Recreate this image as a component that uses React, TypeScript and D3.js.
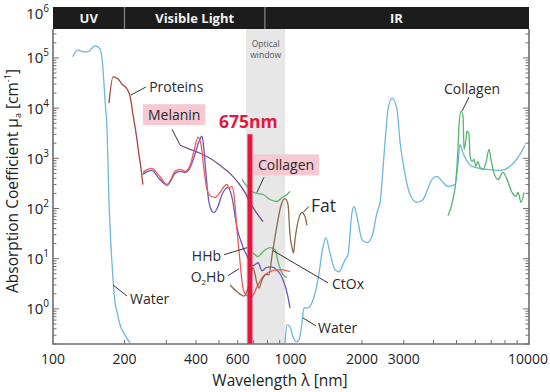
import * as d3 from "d3";
import React, { useEffect, useRef } from "react";

type Pt = [number, number]; // [wavelength nm, absorption cm^-1]

// ---- spectra ----
const waterUV: Pt[] = [
  [121, 1.05e5], [127, 1.45e5], [134, 1.32e5], [140, 1.32e5], [150, 1.74e5],
  [158, 1.51e5], [162, 6.9e4], [165.5, 1.5e4], [169, 3300], [172, 151],
  [174, 38], [177, 8.7], [179, 3.8], [182, 1.5], [186, 0.87], [191, 0.5],
  [201, 0.3], [211, 0.21],
];
const waterIR: Pt[] = [
  [948, 0.21], [967, 0.48], [995, 0.44], [1024, 0.28], [1055, 0.22],
  [1086, 0.24], [1117, 0.52], [1140, 1.05], [1185, 1.05], [1244, 1.5],
  [1305, 3.8], [1370, 17], [1410, 26], [1466, 13], [1540, 6.0], [1600, 5.5],
  [1696, 9.5], [1746, 12], [1815, 83], [1850, 110], [1905, 69], [2000, 24],
  [2100, 21], [2204, 28], [2313, 83], [2383, 132], [2500, 2090], [2574, 9550],
  [2675, 15800], [2807, 9550], [2893, 2090], [3036, 479], [3186, 190],
  [3410, 132], [3612, 151], [3944, 380], [4140, 437], [4345, 347],
  [4604, 275], [4930, 302], [5070, 759], [5170, 1900], [5275, 1450],
  [5482, 955], [5808, 692], [6717, 603], [7620, 575], [8400, 692],
  [9250, 1200], [9710, 1820],
];
const proteins: Pt[] = [
  [172, 12600], [179, 41700], [188, 38000], [195, 30200], [205, 24000],
  [211, 17400], [217, 7600], [224, 3020], [230, 1200], [235, 600], [239, 300],
];
const oxyHb: Pt[] = [
  [239, 525], [251, 603], [261, 631], [277, 479], [290, 363], [302, 302],
  [314, 380], [326, 550], [343, 603], [360, 550], [378, 724], [392, 1380],
  [408, 2630], [420, 1900], [432, 603], [445, 240], [458, 182], [481, 166],
  [505, 209], [525, 275], [541, 302], [551, 251], [567, 275], [578, 190],
  [595, 38], [613, 8.7], [631, 2.6], [650, 1.9], [669, 1.8], [689, 1.8],
  [722, 2.75], [766, 4.4], [820, 5.5], [877, 6.0], [930, 6.0], [995, 5.5],
];
const deoxyHb: Pt[] = [
  [239, 479], [251, 550], [261, 575], [277, 417], [290, 331], [302, 288],
  [314, 363], [326, 501], [343, 550], [360, 525], [378, 661], [396, 1200],
  [412, 2190], [424, 2750], [432, 1510], [441, 479], [449, 190], [463, 95],
  [476, 83], [495, 110], [515, 190], [530, 240], [546, 263], [567, 166],
  [595, 42], [631, 17], [662, 10.5], [695, 7.2], [730, 8.3], [759, 5.75],
  [789, 6.6], [828, 6.9], [877, 6.0], [930, 3.8], [976, 1.74], [995, 1.05],
];
const melanin: Pt[] = [
  [343, 1820], [378, 1510], [416, 1260], [458, 1000], [505, 724], [556, 501],
  [601, 331], [643, 209], [675, 132], [709, 91], [766, 55],
];
const collagenVis: Pt[] = [
  [625, 380], [656, 275], [689, 219], [722, 200], [766, 190], [820, 151],
  [877, 138], [921, 166], [967, 190], [995, 219],
];
const ctox: Pt[] = [
  [695, 13.2], [730, 11], [766, 13.8], [820, 16.6], [861, 15.1], [886, 8.7],
  [930, 4.8], [967, 4.2],
];
const fat: Pt[] = [
  [557, 3.0], [595, 2.2], [637, 1.8], [669, 3.0], [695, 6.6], [722, 3.3],
  [737, 2.6], [759, 3.8], [789, 4.8], [812, 4.8], [836, 11.5], [877, 46],
  [912, 115], [948, 158], [976, 120], [995, 30], [1015, 16.6], [1030, 13],
  [1045, 24], [1086, 66], [1117, 83], [1151, 69], [1173, 46],
];
const collagenIR: Pt[] = [
  [4604, 72], [4830, 151], [4977, 380], [5070, 1510], [5120, 4370],
  [5224, 8700], [5325, 6900], [5380, 1510], [5482, 2400], [5535, 3470],
  [5646, 3020], [5700, 1100], [5808, 871], [5925, 955], [6040, 692],
  [6155, 871], [6280, 661], [6465, 603], [6655, 832], [6850, 1510],
  [6985, 955], [7120, 603], [7475, 380], [7845, 525], [8160, 380],
  [8565, 209], [8895, 174], [9080, 209], [9350, 132], [9620, 209],
];

const series = [
  { name: "waterUV", data: waterUV, color: "#6cb8dd" },
  { name: "waterIR", data: waterIR, color: "#6cb8dd" },
  { name: "proteins", data: proteins, color: "#a3483c" },
  { name: "melanin", data: melanin, color: "#7d4c8c" },
  { name: "collagenVis", data: collagenVis, color: "#56b66c" },
  { name: "ctox", data: ctox, color: "#5cb85f" },
  { name: "deoxyHb", data: deoxyHb, color: "#6a58b8" },
  { name: "oxyHb", data: oxyHb, color: "#f0585a" },
  { name: "fat", data: fat, color: "#8c6a4c" },
  { name: "collagenIR", data: collagenIR, color: "#56b66c" },
];

const xTickLabels = [100, 200, 400, 600, 1000, 2000, 3000, 10000];
const yTickExponents = [0, 1, 2, 3, 4, 5, 6];
const bands = [
  { label: "UV", from: 100, to: 200 },
  { label: "Visible Light", from: 200, to: 780 },
  { label: "IR", from: 780, to: 10000 },
];
const opticalWindow = [650, 950];
const markerWavelength = 675;
const markerTop = 3000;

// annotations: text position, pointer start, pointer end (all in data units)
const annotations = [
  { text: "Proteins", at: [254, 26300], anchor: "start", from: [246, 26300], to: [213, 18200] },
  { text: "Melanin", at: [251, 7240], anchor: "start", box: true, from: [317, 3800], to: [343, 1820] },
  { text: "Collagen", at: [730, 724], anchor: "start", box: true, from: [773, 417], to: [722, 209] },
  { text: "Fat", at: [1220, 115], anchor: "start", size: 17.5, from: [1196, 110], to: [1129, 83] },
  { text: "HHb", at: [510, 11.5], anchor: "end", from: [525, 12], to: [656, 16.6] },
  { text: "O2Hb", at: [530, 4.4], anchor: "end", from: [546, 4.6], to: [607, 6.3] },
  { text: "CtOx", at: [1495, 3.16], anchor: "start", from: [1439, 3.3], to: [844, 14.5] },
  { text: "Water", at: [211, 1.58], anchor: "start", from: [205, 1.8], to: [179, 3.0] },
  { text: "Water", at: [1305, 0.42], anchor: "start", from: [1280, 0.46], to: [1129, 0.66] },
  { text: "Collagen", at: [4430, 24000], anchor: "start", from: [5646, 16600], to: [5275, 8700] },
];

const FONT = "'Open Sans', 'Noto Sans', sans-serif";

const AbsorptionChart: React.FC = () => {
  const svgRef = useRef<SVGSVGElement>(null);

  useEffect(() => {
    if (!svgRef.current) return;
    const width = 550;
    const height = 392;
    const left = 53;
    const right = 529;
    const bottom = 344;
    const headerTop = 7;
    const headerBottom = 29;

    d3.select(svgRef.current).selectAll("*").remove();
    const svg = d3
      .select(svgRef.current)
      .attr("width", width)
      .attr("height", height)
      .style("font-family", FONT);

    const x = d3.scaleLog().domain([100, 10000]).range([left, 528]);
    const y = d3.scaleLog().domain([0.2, 1e6]).range([bottom, 7.7]);

    // optical window
    const wx0 = x(opticalWindow[0]);
    const wx1 = x(opticalWindow[1]);
    svg
      .append("rect")
      .attr("x", wx0)
      .attr("y", headerBottom)
      .attr("width", wx1 - wx0)
      .attr("height", bottom - headerBottom)
      .attr("fill", "#e7e7e7");
    svg
      .append("g")
      .selectAll("text")
      .data(["Optical", "window"])
      .join("text")
      .attr("x", (wx0 + wx1) / 2)
      .attr("y", (d, i) => 47 + i * 10.5)
      .attr("text-anchor", "middle")
      .attr("font-size", 8.5)
      .attr("fill", "#555")
      .text((d) => d);

    // clip
    svg
      .append("clipPath")
      .attr("id", "plot-clip")
      .append("rect")
      .attr("x", left)
      .attr("y", headerBottom)
      .attr("width", right - left)
      .attr("height", bottom - headerBottom);

    const line = d3
      .line<Pt>()
      .x((d) => x(d[0]))
      .y((d) => y(d[1]))
      .curve(d3.curveMonotoneX);

    svg
      .append("g")
      .attr("clip-path", "url(#plot-clip)")
      .selectAll("path")
      .data(series)
      .join("path")
      .attr("fill", "none")
      .attr("stroke", (d) => d.color)
      .attr("stroke-width", 1.3)
      .attr("stroke-linejoin", "round")
      .attr("d", (d) => line(d.data) || "");

    // 675nm marker
    svg
      .append("line")
      .attr("x1", x(markerWavelength))
      .attr("x2", x(markerWavelength))
      .attr("y1", y(markerTop))
      .attr("y2", bottom)
      .attr("stroke", "#e5173f")
      .attr("stroke-width", 5);
    svg
      .append("text")
      .attr("x", x(500))
      .attr("y", y(3980))
      .attr("fill", "#e5173f")
      .attr("font-size", 17.5)
      .attr("font-weight", "bold")
      .text("675nm");

    // header bands
    const header = svg.append("g");
    header
      .append("rect")
      .attr("x", left)
      .attr("y", headerTop)
      .attr("width", right - left)
      .attr("height", headerBottom - headerTop)
      .attr("fill", "#1c1c1c");
    header
      .selectAll("line")
      .data(bands.slice(1))
      .join("line")
      .attr("x1", (d) => x(d.from))
      .attr("x2", (d) => x(d.from))
      .attr("y1", headerTop)
      .attr("y2", headerBottom)
      .attr("stroke", "#8a8a8a")
      .attr("stroke-width", 1.2);
    header
      .selectAll("text")
      .data(bands)
      .join("text")
      .attr("x", (d) => (x(d.from) + Math.min(x(d.to), right)) / 2)
      .attr("y", 23)
      .attr("text-anchor", "middle")
      .attr("fill", "#f2f2f2")
      .attr("font-size", 13)
      .attr("font-weight", "bold")
      .text((d) => d.label);

    // axes frame
    const axisColor = "#6e6e6e";
    svg
      .append("path")
      .attr("d", `M${left},${headerBottom}V${bottom}H${right}V${headerBottom}`)
      .attr("fill", "none")
      .attr("stroke", axisColor)
      .attr("stroke-width", 1.6);

    // y ticks (inside, both sides)
    const yTicks: { v: number; major: boolean }[] = [];
    for (let e = -1; e <= 5; e++) {
      for (let k = 1; k <= 9; k++) {
        const v = k * Math.pow(10, e);
        if (v >= 0.2 && y(v) > headerBottom + 1) yTicks.push({ v, major: k === 1 });
      }
    }
    const tickG = svg.append("g").attr("stroke", axisColor).attr("stroke-width", 1);
    tickG
      .selectAll("line.yl")
      .data(yTicks)
      .join("line")
      .attr("class", "yl")
      .attr("x1", left)
      .attr("x2", (d) => left + (d.major ? 6 : 3.5))
      .attr("y1", (d) => y(d.v))
      .attr("y2", (d) => y(d.v));
    tickG
      .selectAll("line.yr")
      .data(yTicks)
      .join("line")
      .attr("class", "yr")
      .attr("x1", right)
      .attr("x2", (d) => right - (d.major ? 6 : 3.5))
      .attr("y1", (d) => y(d.v))
      .attr("y2", (d) => y(d.v));

    const xTicks: number[] = [];
    for (let e = 2; e <= 3; e++) {
      for (let k = 2; k <= 9; k++) xTicks.push(k * Math.pow(10, e));
    }
    tickG
      .selectAll("line.xb")
      .data(xTicks)
      .join("line")
      .attr("class", "xb")
      .attr("x1", (d) => x(d))
      .attr("x2", (d) => x(d))
      .attr("y1", bottom)
      .attr("y2", bottom - 4);

    // x tick labels
    svg
      .append("g")
      .selectAll("text")
      .data(xTickLabels)
      .join("text")
      .attr("x", (d) => x(d))
      .attr("y", 364)
      .attr("text-anchor", "middle")
      .attr("font-size", 14)
      .attr("fill", "#222")
      .text((d) => String(d));

    // y tick labels 10^n (top one nudged down so its exponent stays visible)
    const yl = svg
      .append("g")
      .selectAll("text")
      .data(yTickExponents)
      .join("text")
      .attr("x", 49)
      .attr("y", (d) => Math.max(y(Math.pow(10, d)), 13) + 5.5)
      .attr("text-anchor", "end")
      .attr("font-size", 15)
      .attr("fill", "#222");
    yl.append("tspan").text("10");
    yl.append("tspan")
      .attr("font-size", 10)
      .attr("dy", -7)
      .text((d) => String(d));

    // axis titles
    svg
      .append("text")
      .attr("x", 280)
      .attr("y", 386)
      .attr("text-anchor", "middle")
      .attr("font-size", 15.5)
      .attr("fill", "#222")
      .text("Wavelength λ [nm]");

    const yt = svg
      .append("text")
      .attr("transform", "translate(18,181) rotate(-90)")
      .attr("text-anchor", "middle")
      .attr("font-size", 15.5)
      .attr("fill", "#222");
    yt.append("tspan").text("Absorption Coefficient μ");
    yt.append("tspan").attr("font-size", 9).attr("dy", 3).text("a");
    yt.append("tspan").attr("dy", -3).text(" [cm");
    yt.append("tspan").attr("font-size", 9).attr("dy", -7).text("-1");
    yt.append("tspan").attr("dy", 7).text("]");

    // annotations
    const ann = svg.append("g");
    annotations.forEach((a) => {
      ann
        .append("line")
        .attr("x1", x(a.from[0]))
        .attr("y1", y(a.from[1]))
        .attr("x2", x(a.to[0]))
        .attr("y2", y(a.to[1]))
        .attr("stroke", "#333")
        .attr("stroke-width", 1);
      const g = ann.append("g");
      const t = g
        .append("text")
        .attr("x", x(a.at[0]))
        .attr("y", y(a.at[1]))
        .attr("dy", "0.36em")
        .attr("text-anchor", a.anchor)
        .attr("font-size", a.size || 14)
        .attr("fill", "#2a2a2a");
      if (a.text === "O2Hb") {
        t.append("tspan").text("O");
        t.append("tspan").attr("font-size", 8).attr("dy", 3).text("2");
        t.append("tspan").attr("dy", -3).text("Hb");
      } else {
        t.text(a.text);
      }
      if (a.box) {
        const bb = (t.node() as SVGTextElement).getBBox();
        g.insert("rect", "text")
          .attr("x", bb.x - 5)
          .attr("y", bb.y - 1)
          .attr("width", bb.width + 10)
          .attr("height", bb.height + 2)
          .attr("fill", "#f6c8d2");
      }
    });
  }, []);

  return <svg ref={svgRef} style={{ position: "absolute", left: 0, top: 0 }} />;
};

export default function App() {
  return <AbsorptionChart />;
}
